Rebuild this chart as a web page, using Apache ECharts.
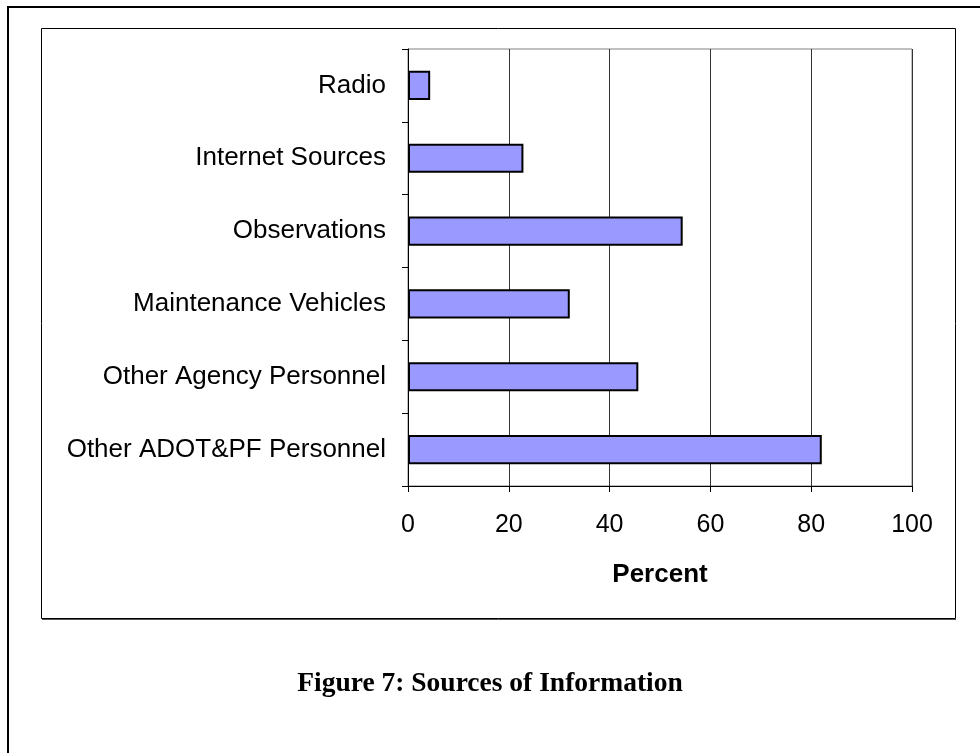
<!DOCTYPE html>
<html>
<head>
<meta charset="utf-8">
<title>Sources of Information</title>
<script src="https://cdn.jsdelivr.net/npm/echarts@6/dist/echarts.min.js"></script>
<style>
  html, body { margin: 0; padding: 0; background: #fff; }
  #chart { width: 980px; height: 753px; }
</style>
</head>
<body>
<div id="chart"></div>
<script>
// Information sources, listed top to bottom
const categories = [
  'Radio',
  'Internet Sources',
  'Observations',
  'Maintenance Vehicles',
  'Other Agency Personnel',
  'Other ADOT&PF Personnel'
];
// Share of respondents using each source (%)
const percentValues = [4.4, 22.9, 54.5, 32.1, 45.7, 82.1];
const xTicks = [0, 20, 40, 60, 80, 100];

const chart = echarts.init(document.getElementById('chart'), null, { renderer: 'canvas' });

const sans = '"Liberation Sans", Arial, sans-serif';

chart.setOption({
  animation: false,
  backgroundColor: '#ffffff',
  grid: {
    left: 408,
    right: 68,
    top: 49,
    bottom: 267,
    show: true,
    borderColor: '#808080',
    borderWidth: 1
  },
  xAxis: {
    type: 'value',
    min: xTicks[0],
    max: xTicks[xTicks.length - 1],
    interval: xTicks[1] - xTicks[0],
    name: 'Percent',
    nameLocation: 'middle',
    nameGap: 76,
    nameTextStyle: { fontFamily: sans, fontSize: 26, fontWeight: 'bold', color: '#000' },
    axisLine: { show: true, lineStyle: { color: '#000', width: 1 } },
    axisTick: { show: true, length: 6, lineStyle: { color: '#000' } },
    axisLabel: { fontFamily: sans, fontSize: 25, color: '#000', margin: 27 },
    splitLine: { show: true, lineStyle: { color: '#333', width: 1 } }
  },
  yAxis: {
    type: 'category',
    data: categories,
    inverse: true,
    axisLine: { show: true, lineStyle: { color: '#000', width: 1 } },
    axisTick: { show: true, length: 6, lineStyle: { color: '#000' } },
    axisLabel: { fontFamily: sans, fontSize: 26, color: '#000', margin: 22 },
    splitLine: { show: false }
  },
  series: [{
    type: 'bar',
    data: percentValues,
    barCategoryGap: '60%',
    itemStyle: { color: '#9999ff', borderColor: '#000', borderWidth: 2 }
  }],
  graphic: [
    {
      // page frame (left and top edges)
      type: 'polyline',
      shape: { points: [[8, 753], [8, 7], [980, 7]] },
      style: { stroke: '#000', lineWidth: 2, fill: null },
      silent: true
    },
    {
      // chart area frame
      type: 'rect',
      shape: { x: 41.5, y: 28.5, width: 914, height: 590 },
      style: { stroke: '#000', lineWidth: 1, fill: null },
      silent: true
    },
    {
      type: 'line',
      shape: { x1: 42, y1: 619.5, x2: 956, y2: 619.5 },
      style: { stroke: '#555', lineWidth: 1 },
      silent: true
    },
    {
      type: 'text',
      left: 'center',
      top: 670,
      style: {
        text: 'Figure 7: Sources of Information',
        font: 'bold 27.5px "Liberation Serif", "Times New Roman", serif',
        fill: '#000'
      },
      silent: true
    }
  ]
});
</script>
</body>
</html>
